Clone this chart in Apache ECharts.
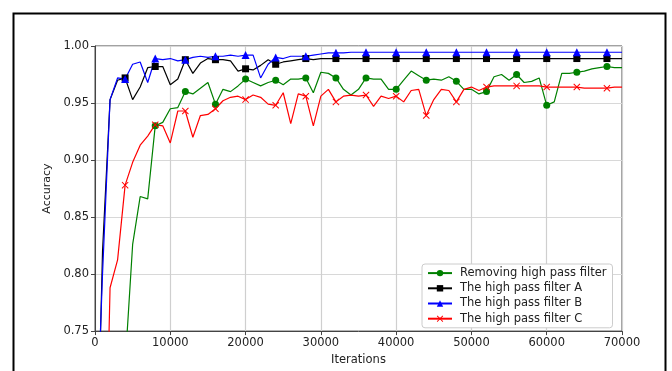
<!DOCTYPE html>
<html>
<head>
<meta charset="utf-8">
<script src="https://cdn.jsdelivr.net/npm/echarts@6/dist/echarts.min.js"></script>
<style>
  html, body { margin: 0; padding: 0; background: #fff; }
  #main { width: 672px; height: 371px; }
</style>
</head>
<body>
<div id="main"></div>
<script>
var iterations = [0, 1000, 2000, 3000, 4000, 5000, 6000, 7000, 8000, 9000,
  10000, 11000, 12000, 13000, 14000, 15000, 16000, 17000, 18000, 19000,
  20000, 21000, 22000, 23000, 24000, 25000, 26000, 27000, 28000, 29000,
  30000, 31000, 32000, 33000, 34000, 35000, 36000, 37000, 38000, 39000,
  40000, 41000, 42000, 43000, 44000, 45000, 46000, 47000, 48000, 49000,
  50000, 51000, 52000, 53000, 54000, 55000, 56000, 57000, 58000, 59000,
  60000, 61000, 62000, 63000, 64000, 65000, 66000, 67000, 68000, 69000, 70000];

var removingHpf = [0.30, 0.45, 0.58, 0.66, 0.72, 0.826, 0.868, 0.866, 0.930, 0.933,
  0.945, 0.946, 0.960, 0.958, 0.963, 0.968, 0.949, 0.962, 0.960, 0.965,
  0.971, 0.968, 0.965, 0.968, 0.970, 0.966, 0.971, 0.971, 0.972, 0.959,
  0.977, 0.976, 0.972, 0.962, 0.957, 0.962, 0.972, 0.971, 0.971, 0.962,
  0.962, 0.970, 0.978, 0.974, 0.970, 0.971, 0.970, 0.973, 0.969, 0.962,
  0.962, 0.958, 0.960, 0.973, 0.975, 0.970, 0.975, 0.968, 0.969, 0.972,
  0.948, 0.951, 0.976, 0.976, 0.977, 0.978, 0.980, 0.981, 0.982, 0.981, 0.981];

var hpfA = [0.55, 0.82, 0.953, 0.970, 0.972, 0.953, 0.964, 0.981, 0.982, 0.982,
  0.966, 0.971, 0.988, 0.976, 0.985, 0.989, 0.988, 0.988, 0.987, 0.978,
  0.980, 0.979, 0.983, 0.988, 0.984, 0.986, 0.987, 0.988, 0.989, 0.988,
  0.989, 0.989, 0.989, 0.989, 0.989, 0.989, 0.989, 0.989, 0.989, 0.989,
  0.989, 0.989, 0.989, 0.989, 0.989, 0.989, 0.989, 0.989, 0.989, 0.989,
  0.989, 0.989, 0.989, 0.989, 0.989, 0.989, 0.989, 0.989, 0.989, 0.989,
  0.989, 0.989, 0.989, 0.989, 0.989, 0.989, 0.989, 0.989, 0.989, 0.989, 0.989];

var hpfB = [0.62, 0.80, 0.953, 0.972, 0.971, 0.984, 0.986, 0.968, 0.989, 0.988,
  0.989, 0.987, 0.988, 0.990, 0.991, 0.990, 0.991, 0.991, 0.992, 0.991,
  0.992, 0.992, 0.972, 0.984, 0.990, 0.989, 0.991, 0.991, 0.991, 0.992,
  0.993, 0.994, 0.994, 0.994, 0.9945, 0.9945, 0.9945, 0.9945, 0.9945, 0.9945,
  0.9945, 0.9945, 0.9945, 0.9945, 0.9945, 0.9945, 0.9945, 0.9945, 0.9945, 0.9945,
  0.9945, 0.9945, 0.9945, 0.9945, 0.9945, 0.9945, 0.9945, 0.9945, 0.9945, 0.9945,
  0.9945, 0.9945, 0.9945, 0.9945, 0.9945, 0.9945, 0.9945, 0.9945, 0.9945, 0.9945, 0.9945];

var hpfC = [0.30, 0.50, 0.788, 0.8125, 0.878, 0.898, 0.913, 0.921, 0.931, 0.930,
  0.915, 0.943, 0.943, 0.920, 0.939, 0.940, 0.945, 0.952, 0.955, 0.956,
  0.953, 0.957, 0.955, 0.949, 0.948, 0.959, 0.932, 0.958, 0.956, 0.930,
  0.956, 0.962, 0.951, 0.956, 0.957, 0.956, 0.957, 0.947, 0.956, 0.954,
  0.956, 0.951, 0.961, 0.962, 0.939, 0.953, 0.962, 0.961, 0.951, 0.962,
  0.964, 0.961, 0.964, 0.965, 0.965, 0.965, 0.965, 0.965, 0.965, 0.965,
  0.964, 0.964, 0.964, 0.964, 0.964, 0.963, 0.963, 0.963, 0.963, 0.964, 0.964];

var yTicks = [0.75, 0.80, 0.85, 0.90, 0.95, 1.00];

var font = 'DejaVu Sans';
// x-shaped marker, filled so it shows like matplotlib's 'x'
var crossPath = 'path://M0,1L1,0L5,4L9,0L10,1L6,5L10,9L9,10L5,6L1,10L0,9L4,5Z';

function pairs(ys) {
  return iterations.map(function (x, i) { return [x, ys[i]]; });
}

function mkSeries(name, ys, color, sym, size) {
  return {
    name: name,
    type: 'line',
    data: pairs(ys),
    symbol: sym,
    // markers only every 4000 iterations
    symbolSize: function (v, p) {
      return (p.dataIndex > 0 && p.dataIndex % 4 === 0) ? size : 0;
    },
    showSymbol: true,
    clip: true,
    animation: false,
    lineStyle: { color: color, width: 1.2 },
    itemStyle: { color: color, borderWidth: 0 },
    emphasis: { disabled: true }
  };
}

var option = {
  backgroundColor: '#fff',
  graphic: [{
    type: 'rect',
    shape: { x: 13.5, y: 13.5, width: 652, height: 400 },
    style: { fill: null, stroke: '#000', lineWidth: 2 },
    silent: true
  }],
  grid: {
    left: 95, right: 50, top: 46, bottom: 38,
    show: true, borderColor: '#444', borderWidth: 1
  },
  legend: {
    orient: 'vertical',
    left: 422, top: 264,
    padding: [3, 6, 3, 5],
    itemGap: 3,
    itemWidth: 24,
    itemHeight: 8,
    backgroundColor: '#fff',
    borderColor: '#ccc',
    borderWidth: 1,
    borderRadius: 3,
    textStyle: { fontFamily: font, fontSize: 11.5, color: '#222', lineHeight: 12.2, padding: [0, 0, 0, 3] },
    data: ['Removing high pass filter', 'The high pass filter A', 'The high pass filter B', 'The high pass filter C']
  },
  xAxis: {
    type: 'value',
    min: 0, max: 70000, interval: 10000,
    name: 'Iterations',
    nameLocation: 'middle',
    nameGap: 20,
    nameTextStyle: { fontFamily: font, fontSize: 11.5, color: '#222' },
    axisLine: { show: true, lineStyle: { color: '#444' } },
    axisTick: { show: true, length: 4, lineStyle: { color: '#444' } },
    axisLabel: {
      fontFamily: font, fontSize: 11.5, color: '#222', margin: 6,
      formatter: function (v) { return String(v); }
    },
    splitLine: { show: true, lineStyle: { color: '#cfcfcf', width: 1.2 } }
  },
  yAxis: {
    type: 'value',
    min: yTicks[0], max: yTicks[yTicks.length - 1], interval: 0.05,
    name: 'Accuracy',
    nameLocation: 'middle',
    nameGap: 38,
    nameTextStyle: { fontFamily: font, fontSize: 11, color: '#222' },
    axisLine: { show: true, lineStyle: { color: '#444' } },
    axisTick: { show: true, length: 4, lineStyle: { color: '#444' } },
    axisLabel: {
      fontFamily: font, fontSize: 11.5, color: '#222', margin: 6,
      formatter: function (v) { return v.toFixed(2); }
    },
    splitLine: { show: true, lineStyle: { color: '#d8d8d8', width: 1.2 } }
  },
  series: [
    mkSeries('Removing high pass filter', removingHpf, '#008000', 'circle', 7),
    mkSeries('The high pass filter A', hpfA, '#000000', 'rect', 7),
    mkSeries('The high pass filter B', hpfB, '#0000ff', 'triangle', 8),
    mkSeries('The high pass filter C', hpfC, '#ff0000', crossPath, 7)
  ]
};

var myChart = echarts.init(document.getElementById('main'), null, { renderer: 'canvas' });
myChart.setOption(option);
</script>
</body>
</html>
